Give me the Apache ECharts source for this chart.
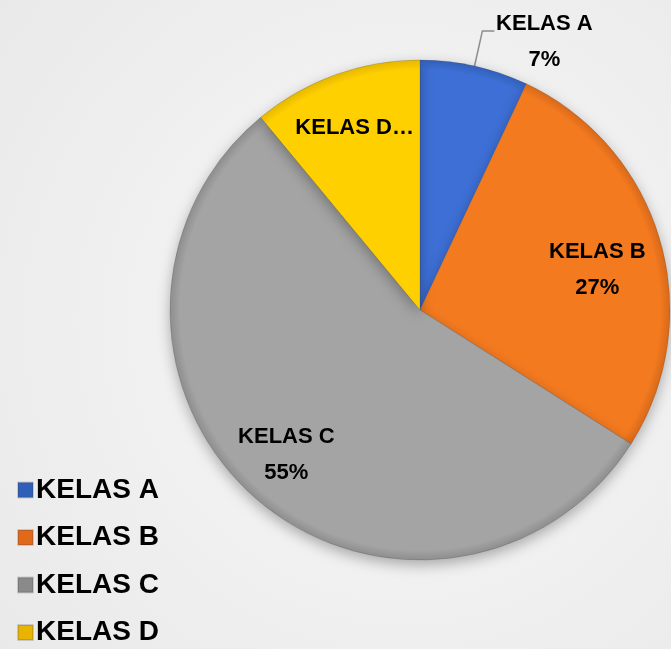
<!DOCTYPE html>
<html>
<head>
<meta charset="utf-8">
<script src="https://cdn.jsdelivr.net/npm/echarts@6/dist/echarts.min.js"></script>
<style>
  html, body { margin: 0; padding: 0; }
  #chart { width: 671px; height: 649px; }
</style>
</head>
<body>
<div id="chart"></div>
<script>
// data
var categories = ["KELAS A", "KELAS B", "KELAS C", "KELAS D"];
var values = [7, 27, 55, 11];
var colors = ["#3d6fd6", "#f47a1f", "#a4a4a4", "#ffd000"];
var rimColors = ["#3260b8", "#d7691a", "#8e8e8e", "#e6b800"];
var legendColors = ["#2f5fb8", "#e06a1a", "#8a8a8a", "#e8b400"];

var CX = 420, CY = 310, R = 250;

function sliceFill(i) {
  return {
    type: "radial", x: CX, y: CY, r: R, global: true,
    colorStops: [
      { offset: 0, color: colors[i] },
      { offset: 0.96, color: colors[i] },
      { offset: 1, color: rimColors[i] }
    ]
  };
}

var chart = echarts.init(document.getElementById("chart"));

var mainData = categories.map(function (name, i) {
  var item = {
    name: name,
    value: values[i],
    itemStyle: { color: sliceFill(i) },
    label: { show: false },
    labelLine: { show: false }
  };
  if (i === 0) {
    // small slice: label outside with a leader line
    item.label = {
      show: true,
      position: "outside",
      formatter: "{a|{b}}\n{a|{d}%}",
      padding: [22, 0, 0, 0],
      rich: {
        a: {
          width: 90, align: "center",
          fontFamily: "Liberation Sans", fontWeight: "bold",
          fontSize: 22, lineHeight: 36, color: "#000"
        }
      }
    };
    item.labelLine = {
      show: true, length: 36, length2: 12,
      lineStyle: { color: "#8c8c8c", width: 1.5 }
    };
  }
  return item;
});

// transparent ring, used only to place the inner labels further out
var labelData = categories.map(function (name, i) {
  var item = {
    name: name,
    value: values[i],
    itemStyle: { color: "rgba(0,0,0,0)" },
    label: { show: i !== 0 }
  };
  if (i === 3) {
    item.label = {
      show: true,
      formatter: "{b} {d}%",
      width: 121,
      overflow: "truncate",
      ellipsis: "…"
    };
  }
  return item;
});

var legendData = categories.map(function (name, i) {
  return { name: name, itemStyle: { color: legendColors[i] } };
});

var option = {
  backgroundColor: {
    type: "radial", x: 0.6, y: 0.5, r: 0.8,
    colorStops: [
      { offset: 0, color: "#f8f8f8" },
      { offset: 1, color: "#e9e9e9" }
    ]
  },
  animation: false,
  color: colors,
  legend: {
    orient: "vertical",
    left: 12,
    top: 471,
    height: 200,
    itemWidth: 15,
    itemHeight: 15,
    itemGap: 19.5,
    icon: "rect",
    data: legendData,
    textStyle: {
      fontFamily: "Liberation Sans",
      fontWeight: "bold",
      fontSize: 28,
      lineHeight: 28,
      color: "#000",
      padding: [0, 0, 0, -2]
    }
  },
  series: [
    {
      name: "kelas",
      type: "pie",
      center: [CX, CY],
      radius: [0, R],
      startAngle: 90,
      clockwise: true,
      avoidLabelOverlap: false,
      itemStyle: {
        borderColor: "rgba(60,60,60,0.2)",
        borderWidth: 1,
        shadowBlur: 14,
        shadowOffsetY: 5,
        shadowColor: "rgba(0,0,0,0.3)"
      },
      emphasis: { disabled: true },
      data: mainData
    },
    {
      name: "labels",
      type: "pie",
      silent: true,
      center: [CX, CY],
      radius: [130, R],
      startAngle: 90,
      clockwise: true,
      avoidLabelOverlap: false,
      label: {
        position: "inside",
        formatter: "{b}\n{d}%",
        fontFamily: "Liberation Sans",
        fontWeight: "bold",
        fontSize: 22,
        lineHeight: 36,
        color: "#000"
      },
      labelLayout: function (params) {
        if (params.dataIndex === 1) return { dx: -8, dy: 14 };
        if (params.dataIndex === 2) return { dx: -6 };
        return {};
      },
      labelLine: { show: false },
      emphasis: { disabled: true },
      data: labelData
    }
  ]
};

chart.setOption(option);
</script>
</body>
</html>
